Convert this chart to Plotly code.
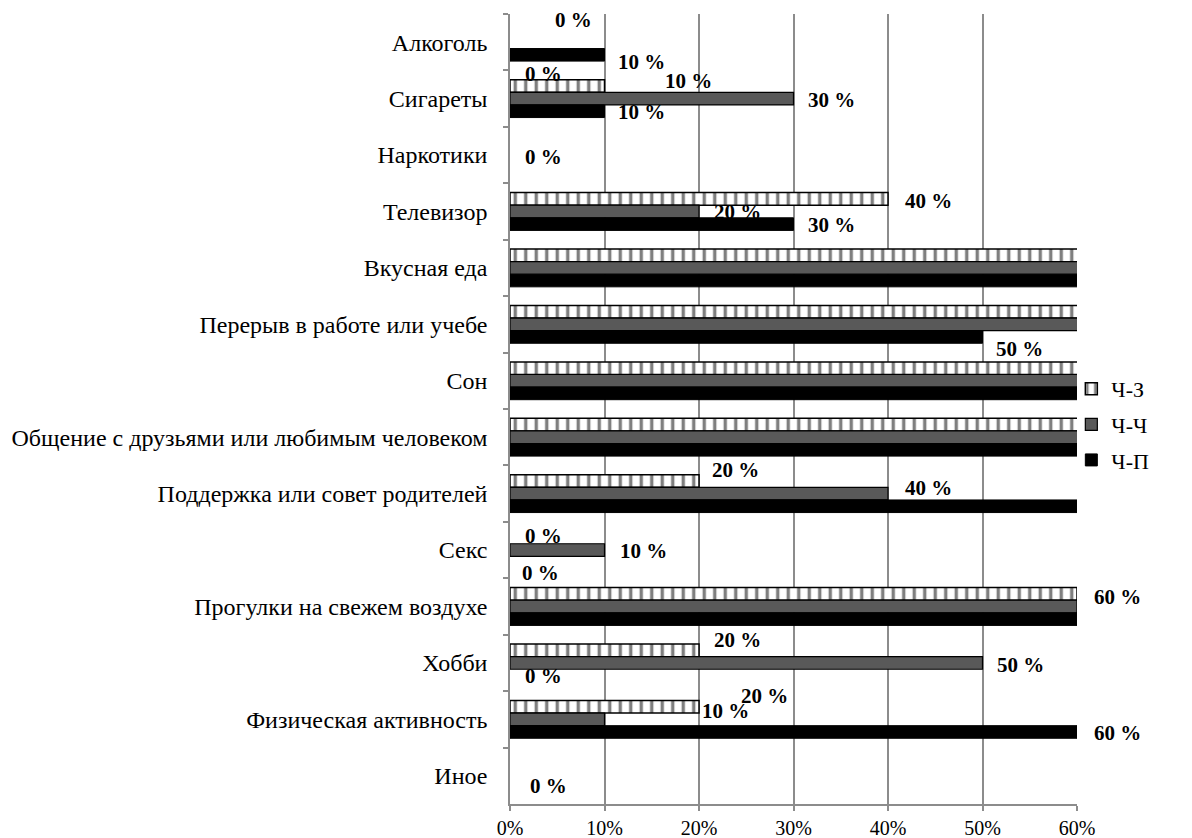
import plotly.graph_objects as go

categories = [
    "Алкоголь", "Сигареты", "Наркотики", "Телевизор", "Вкусная еда",
    "Перерыв в работе или учебе", "Сон",
    "Общение с друзьями или любимым человеком",
    "Поддержка или совет родителей", "Секс", "Прогулки на свежем воздухе",
    "Хобби", "Физическая активность", "Иное",
]
series_names = ["Ч-З", "Ч-Ч", "Ч-П"]
# values in %, bars beyond 60 % are clipped at the axis end in the original
vals_cz = [0, 10, 0, 40, 80, 80, 80, 80, 20, 0, 60, 20, 20, 0]
vals_cc = [0, 30, 0, 20, 80, 80, 80, 80, 40, 10, 60, 50, 10, 0]
vals_cp = [10, 10, 0, 30, 80, 50, 80, 80, 80, 0, 60, 0, 60, 0]
series_values = [vals_cz, vals_cc, vals_cp]
x_ticks = [0, 10, 20, 30, 40, 50, 60]

# data labels: (series index, category, pixel offset x from bar end, pixel offset y)
label_specs = [
    (1, "Алкоголь", 63, 22),
    (2, "Алкоголь", 37, -20),
    (0, "Алкоголь", 33, -32),
    (0, "Сигареты", 84, 18),
    (1, "Сигареты", 38, -1),
    (2, "Сигареты", 37, -13),
    (1, "Наркотики", 33, -2),
    (0, "Телевизор", 40, 11),
    (1, "Телевизор", 38, 0),
    (2, "Телевизор", 38, -13),
    (2, "Перерыв в работе или учебе", 37, -25),
    (0, "Поддержка или совет родителей", 36, 24),
    (1, "Поддержка или совет родителей", 40, 6),
    (0, "Секс", 33, 14),
    (1, "Секс", 39, -1),
    (2, "Секс", 30, -23),
    (0, "Прогулки на свежем воздухе", 40, 10),
    (0, "Хобби", 38, 23),
    (1, "Хобби", 38, -2),
    (2, "Хобби", 33, -13),
    (0, "Физическая активность", 65, 23),
    (1, "Физическая активность", 121, 8),
    (2, "Физическая активность", 40, -14),
    (1, "Иное", 38, -10),
]

FONT = "Liberation Serif, Times New Roman, serif"
GRID = "#8c8c8c"

fig = go.Figure()
styles = [
    dict(color="white", line=dict(color="black", width=1.5),
         pattern=dict(shape="|", fgcolor="black", bgcolor="white", size=10.5, solidity=0.32)),
    dict(color="#595959", line=dict(color="black", width=1.2)),
    dict(color="black", line=dict(color="black", width=1)),
]
for name, vals, st in zip(series_names, series_values, styles):
    fig.add_trace(go.Bar(
        y=categories,
        x=[v if v > 0 else None for v in vals],  # zero-length bars are not drawn
        name=name, orientation="h",
        marker=st, legendgroup=name,
    ))

annotations = []
for si, cat, dx, dy in label_specs:
    v = series_values[si][categories.index(cat)]
    annotations.append(dict(
        x=min(v, 60), y=cat, xref="x", yref="y", text=f"{v} %",
        showarrow=False, xanchor="center", yanchor="middle",
        xshift=dx, yshift=dy,
        font=dict(family=FONT, size=21, color="black", weight="bold"),
    ))

n = len(categories)
fig.update_layout(
    width=1192, height=838,
    margin=dict(l=510, r=115, t=14, b=34, autoexpand=False),
    paper_bgcolor="white", plot_bgcolor="white",
    barmode="group", bargap=0.33, bargroupgap=0,
    font=dict(family=FONT, size=20, color="black"),
    annotations=annotations,
    showlegend=True,
    legend=dict(x=0.99, y=0.552, xanchor="left", yanchor="top",
                traceorder="grouped", tracegroupgap=4,
                font=dict(family=FONT, size=22, color="black"),
                itemwidth=30, bgcolor="rgba(0,0,0,0)"),
)
fig.update_xaxes(
    range=[0, 60], tickvals=x_ticks, ticktext=[f"{t}%" for t in x_ticks],
    showgrid=True, gridcolor=GRID, gridwidth=1.5,
    showline=True, linecolor=GRID, linewidth=1.5,
    ticks="outside", ticklen=5, tickcolor=GRID, tickwidth=1.5,
    automargin=False,
    zeroline=False, tickfont=dict(family=FONT, size=20, color="black"),
)
fig.update_yaxes(
    categoryorder="array", categoryarray=categories,
    range=[n - 0.5, -0.5], automargin=False,
    showgrid=False, showline=True, linecolor=GRID, linewidth=1.5,
    ticks="outside", ticklen=5, tickcolor=GRID, tickwidth=1.5,
    tickson="boundaries", ticklabelstandoff=16, layer="above traces",
    tickfont=dict(family=FONT, size=24, color="black"),
)
fig.write_html("out.html")
